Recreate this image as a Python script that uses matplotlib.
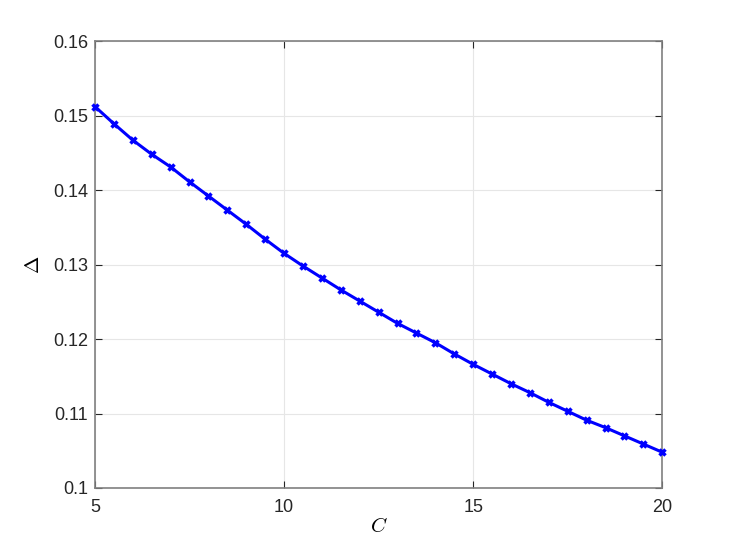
import numpy as np
import matplotlib
matplotlib.use("Agg")
import matplotlib.pyplot as plt

# data
C = [5, 5.5, 6, 6.5, 7, 7.5, 8, 8.5, 9, 9.5, 10, 10.5, 11, 11.5, 12, 12.5,
     13, 13.5, 14, 14.5, 15, 15.5, 16, 16.5, 17, 17.5, 18, 18.5, 19, 19.5, 20]
delta = [0.1512, 0.1489, 0.1467, 0.1448, 0.1431, 0.1411, 0.1392, 0.1373,
         0.1354, 0.1334, 0.1315, 0.1298, 0.1282, 0.1266, 0.1251, 0.1236,
         0.1221, 0.1208, 0.1195, 0.1180, 0.1166, 0.1153, 0.1140, 0.1128,
         0.1115, 0.1103, 0.1091, 0.1081, 0.1070, 0.1059, 0.1048]
xticks = [5, 10, 15, 20]
yticks = [0.1, 0.11, 0.12, 0.13, 0.14, 0.15, 0.16]
yticklabels = ['0.1', '0.11', '0.12', '0.13', '0.14', '0.15', '0.16']

plt.rcParams['font.family'] = ['Liberation Sans', 'DejaVu Sans']
plt.rcParams['mathtext.fontset'] = 'cm'

fig = plt.figure(figsize=(7.31, 5.48), dpi=100)
ax = fig.add_axes([0.13, 0.1095, 0.776, 0.8155])

ax.plot(C, delta, color='#0000ff', lw=2.2, marker='x', ms=5, mew=2.5,
        clip_on=False, zorder=5)

ax.set_xlim(5, 20)
ax.set_ylim(0.1, 0.16)
ax.set_xticks(xticks)
ax.set_yticks(yticks)
ax.set_yticklabels(yticklabels)
ax.grid(True, color='#e6e6e6', lw=0.8)
ax.set_axisbelow(True)

ax.tick_params(direction='in', top=True, right=True, length=5, width=0.8,
               colors='#262626', labelsize=13, pad=5)
ax.tick_params(axis='x', pad=8)
for s in ax.spines.values():
    s.set_color('#808080')
    s.set_linewidth(1.2)

ax.set_xlabel('$C$', fontsize=15, labelpad=1)
ax.set_ylabel(r'$\Delta$', fontsize=15, labelpad=7)

fig.savefig('out.png', dpi=100)
